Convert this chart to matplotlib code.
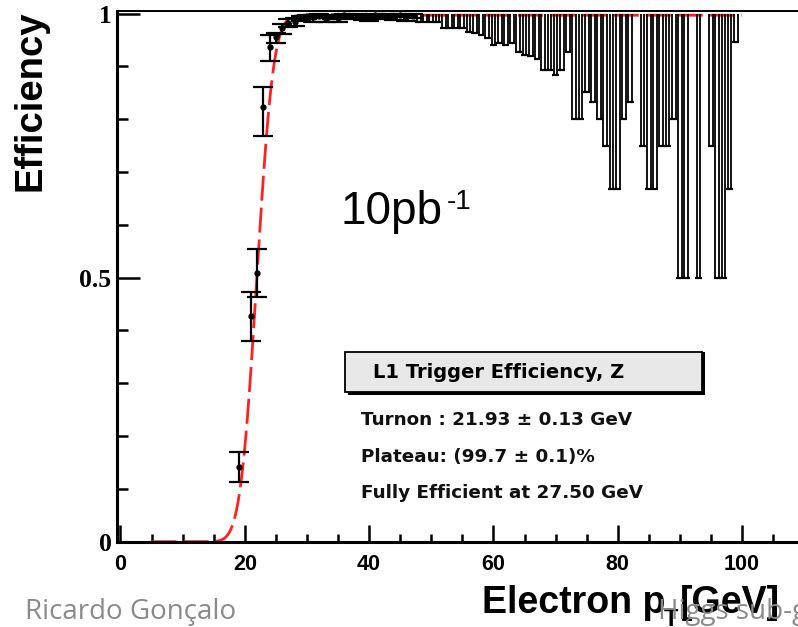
import math
import numpy as np
import matplotlib.pyplot as plt
from matplotlib.patches import Rectangle

# ---- efficiency per pT bin (GeV) ----
pt = [19.0, 21.0, 22.0, 23.0, 24.0, 25.0, 26.0, 27.0, 28.0, 29.0,
      30.0, 31.0, 32.0, 33.0, 34.0, 35.0, 36.0, 37.0, 38.0, 39.0,
      40.0, 41.0, 42.0, 43.0, 44.0, 45.0, 46.0, 47.0, 48.0, 49.0,
      50.0, 51.0, 52.0, 53.0, 54.0, 55.0, 56.0, 57.0, 58.0, 59.0,
      60.0, 61.0, 62.0, 63.0, 64.0, 65.0, 66.0, 67.0, 68.0, 69.0,
      70.0, 71.0, 72.0, 73.0, 74.0, 75.0, 76.0, 77.0, 78.0, 79.0,
      80.0, 81.0, 82.0, 84.0, 85.0, 86.0, 87.0, 88.0, 89.0, 90.0,
      91.0, 93.0, 95.0, 96.0, 97.0, 98.0, 99.0]
eff = [0.141, 0.427, 0.509, 0.823, 0.937, 0.955, 0.972, 0.982, 0.985, 0.992,
       0.995, 0.993, 0.996, 0.990, 0.995, 0.991, 0.997, 0.995, 0.996, 0.994,
       0.992, 0.997, 0.995, 0.996, 0.994, 0.997, 0.993, 0.996, 1.0, 1.0,
       1.0, 1.0, 1.0, 1.0, 1.0, 1.0, 1.0, 1.0, 1.0, 1.0,
       1.0, 1.0, 1.0, 1.0, 1.0, 1.0, 1.0, 1.0, 1.0, 1.0,
       1.0, 1.0, 1.0, 1.0, 1.0, 1.0, 1.0, 1.0, 1.0, 1.0,
       1.0, 1.0, 1.0, 1.0, 1.0, 1.0, 1.0, 1.0, 1.0, 1.0,
       1.0, 1.0, 1.0, 1.0, 1.0, 1.0, 1.0]
err_lo = [0.028, 0.046, 0.045, 0.054, 0.027, 0.011, 0.010, 0.008, 0.008, 0.006,
          0.005, 0.008, 0.005, 0.006, 0.005, 0.007, 0.004, 0.005, 0.004, 0.006,
          0.006, 0.004, 0.005, 0.004, 0.006, 0.004, 0.007, 0.005, 0.015, 0.015,
          0.015, 0.015, 0.027, 0.027, 0.027, 0.027, 0.035, 0.037, 0.040, 0.047,
          0.060, 0.055, 0.060, 0.055, 0.072, 0.078, 0.081, 0.085, 0.107, 0.107,
          0.116, 0.107, 0.072, 0.200, 0.200, 0.148, 0.167, 0.200, 0.250, 0.333,
          0.333, 0.200, 0.167, 0.250, 0.333, 0.333, 0.250, 0.250, 0.200, 0.500,
          0.500, 0.500, 0.250, 0.500, 0.500, 0.333, 0.053]
err_hi = [0.028, 0.046, 0.045, 0.038, 0.023, 0.008, 0.009, 0.008, 0.006, 0.004,
          0.003, 0.004, 0.003, 0.004, 0.003, 0.004, 0.002, 0.003, 0.003, 0.004,
          0.004, 0.002, 0.003, 0.003, 0.004, 0.002, 0.004, 0.003, 0.0, 0.0,
          0.0, 0.0, 0.0, 0.0, 0.0, 0.0, 0.0, 0.0, 0.0, 0.0,
          0.0, 0.0, 0.0, 0.0, 0.0, 0.0, 0.0, 0.0, 0.0, 0.0,
          0.0, 0.0, 0.0, 0.0, 0.0, 0.0, 0.0, 0.0, 0.0, 0.0,
          0.0, 0.0, 0.0, 0.0, 0.0, 0.0, 0.0, 0.0, 0.0, 0.0,
          0.0, 0.0, 0.0, 0.0, 0.0, 0.0, 0.0]

# fit result
turnon = 21.93
plateau = 0.997
width = 2.1
fit_range = (5.0, 100.0)

W, H = 798, 627


def fx(px):
    return px / W


def fy(py):
    return 1 - py / H


pt = np.array(pt)
eff = np.array(eff)
err_lo = np.array(err_lo)
err_hi = np.array(err_hi)

fig = plt.figure(figsize=(W / 100, H / 100), dpi=100)
ax = fig.add_axes([fx(117), fy(541.7), fx(798 - 117), (541.7 - 11) / H])
ax.set_xlim(-0.56, 109.0)
ax.set_ylim(0, 1.005)

# turn-on fit
xf = np.linspace(fit_range[0], fit_range[1], 800)
yf = np.array([0.5 * plateau * (1 + math.erf((x - turnon) / (math.sqrt(2) * width))) for x in xf])
ax.plot(xf, yf, color='#ff2020', lw=2.0, ls=(0, (9, 2.5)), zorder=2)

# error bars: solid for the turn-on, open bars where efficiency is 1
full = eff >= 0.999
part = ~full
ax.errorbar(pt[part], eff[part], yerr=[err_lo[part], err_hi[part]], fmt='o', ms=3.5,
            color='black', ecolor='black', elinewidth=1.6, capsize=7, capthick=1.6, zorder=3)
lo_full = eff[full] - err_lo[full]
ax.vlines(pt[full] - 0.3, lo_full, eff[full], color='black', lw=1.3, zorder=3)
ax.vlines(pt[full] + 0.3, lo_full, eff[full], color='black', lw=1.3, zorder=3)
ax.hlines(lo_full, pt[full] - 0.55, pt[full] + 0.55, color='black', lw=1.6, zorder=3)

# axes style
ax.spines['right'].set_visible(False)
ax.spines['left'].set_linewidth(2.2)
ax.spines['bottom'].set_linewidth(2.2)
ax.spines['top'].set_linewidth(1.4)

ax.set_xticks([0, 20, 40, 60, 80, 100])
ax.set_xticks(np.arange(0, 110, 5), minor=True)
ax.set_yticks([0, 0.5, 1])
ax.set_yticks(np.arange(0, 1.01, 0.1), minor=True)
ax.tick_params(axis='both', which='both', direction='in', width=1.8, top=False, right=False)
ax.tick_params(axis='x', which='major', length=12.5, pad=9)
ax.tick_params(axis='x', which='minor', length=6)
ax.tick_params(axis='y', which='major', length=16.5, pad=4)
ax.tick_params(axis='y', which='minor', length=8)
ax.set_xticklabels(['0', '20', '40', '60', '80', '100'], family='Liberation Sans',
                   fontsize=15.5, fontweight='bold')
ax.set_yticklabels(['0', '0.5', '1'], family='Liberation Serif', fontsize=18.5, fontweight='bold')

# axis titles
fig.text(fx(31), fy(101), 'Efficiency', rotation=90, ha='center', va='center',
         family='Liberation Sans', fontweight='bold', fontsize=27.5)
fig.text(fx(482), fy(613), 'Electron p', ha='left', va='baseline',
         family='Liberation Sans', fontweight='bold', fontsize=27)
fig.text(fx(664), fy(626), 'T', ha='left', va='baseline',
         family='Liberation Sans', fontweight='bold', fontsize=17)
fig.text(fx(680), fy(613), '[GeV]', ha='left', va='baseline',
         family='Liberation Sans', fontweight='bold', fontsize=27)

# luminosity
fig.text(fx(340), fy(224), '10pb', ha='left', va='baseline',
         family='Liberation Sans', fontsize=33)
fig.text(fx(447), fy(209), '-1', ha='left', va='baseline',
         family='Liberation Sans', fontsize=20)

# stats box
fig.patches.append(Rectangle((fx(348), fy(395)), fx(357), (395 - 352) / H,
                             transform=fig.transFigure, facecolor='black', edgecolor='none', zorder=4))
fig.patches.append(Rectangle((fx(345), fy(392)), fx(357), (392 - 352) / H,
                             transform=fig.transFigure, facecolor='#e8e8e8', edgecolor='black',
                             lw=1.3, zorder=5))
fig.text(fx(373), fy(372), 'L1 Trigger Efficiency, Z', ha='left', va='center',
         family='DejaVu Sans', fontweight='bold', fontsize=14, zorder=6)
stats = ['Turnon : 21.93 ± 0.13 GeV', 'Plateau: (99.7 ± 0.1)%', 'Fully Efficient at 27.50 GeV']
for line, ypx in zip(stats, [420, 457, 493]):
    fig.text(fx(361), fy(ypx), line, ha='left', va='center',
             family='DejaVu Sans', fontweight='bold', fontsize=13.2, color='#111111')

# footer
fig.text(fx(25), fy(619), 'Ricardo Gonçalo', ha='left', va='baseline',
         family='Open Sans', fontsize=20, color='#8a8a8a')
fig.text(fx(658), fy(619), 'Higgs sub-group', ha='left', va='baseline',
         family='Open Sans', fontsize=20, color='#8a8a8a', zorder=10)

fig.savefig('out.png', dpi=100)
